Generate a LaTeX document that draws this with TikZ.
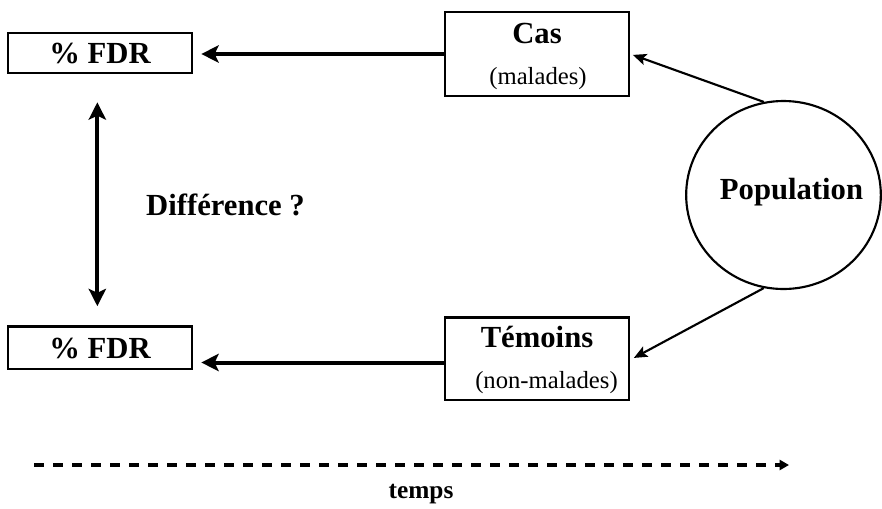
\documentclass[tikz,border=0pt]{standalone}
\usepackage{fontspec}
\setmainfont{Liberation Serif}
\usetikzlibrary{arrows.meta,shapes.geometric}
\tikzset{
  box/.style={draw, line width=2pt, inner sep=0pt},
  bigtxt/.style={font=\fontsize{23}{27}\selectfont\bfseries, inner sep=0pt, anchor=base},
  smalltxt/.style={font=\fontsize{18.5}{22}\selectfont, inner sep=0pt, anchor=base},
  harrow/.style={line width=3pt, -{Stealth[length=13pt,width=13pt,inset=3pt]}},
  varrow/.style={line width=3pt, {Stealth[length=13pt,width=13pt,inset=3pt]}-{Stealth[length=13pt,width=13pt,inset=3pt]}},
  darrow/.style={line width=1.6pt, -{Stealth[length=10pt,width=8.5pt,inset=2pt]}},
  timearrow/.style={line width=2.6pt, dash pattern=on 7.5pt off 6.75pt, -{Triangle[length=7pt,width=7.5pt]}}
}
\begin{document}
\begin{tikzpicture}[x=0.75pt,y=-0.75pt]
\useasboundingbox (0,0) rectangle (882,508);
% boxes
\node[box, minimum width=138pt, minimum height=30pt] (fdr1) at (100,53) {};
\node[box, minimum width=138pt, minimum height=32pt] (fdr2) at (100,347.5) {};
\node[box, minimum width=138pt, minimum height=63pt] (cas) at (537,54) {};
\node[box, minimum width=138pt, minimum height=62pt] (tem) at (537,358.5) {};
\node[draw, ellipse, line width=1.6pt, minimum width=146pt, minimum height=141pt, inner sep=0pt] (pop) at (783.5,195) {};
% texts
\node[bigtxt] (tfdr1) at (100,63) {\% FDR};
\node[bigtxt] (tfdr2) at (100,358) {\% FDR};
\node[bigtxt] (tcas) at (537,43) {Cas};
\node[smalltxt] (tmal) at (538,84) {(malades)};
\node[bigtxt] (ttem) at (537,347) {Témoins};
\node[smalltxt] (tnon) at (546.5,388) {(non-malades)};
\node[bigtxt] (tpop) at (791.5,199) {Population};
\node[bigtxt] (tdiff) at (225.5,215) {Différence ?};
\node[inner sep=0pt, anchor=base, font=\fontsize{19}{22}\selectfont\bfseries] (ttemps) at (421,498) {temps};
% connectors
\draw[harrow, shorten >=6pt] (cas.west) -- (cas.west -| fdr1.east);
\draw[harrow, shorten >=6pt] ([yshift=-3pt]tem.west) -- ([yshift=-3pt]tem.west -| fdr2.east);
\draw[varrow, shorten <=21pt, shorten >=14pt] ([xshift=-2pt]fdr1.south) -- ([xshift=-2pt]fdr2.north);
\draw[darrow, shorten >=2pt] (pop.102) -- (cas.east);
\draw[darrow, shorten >=3pt] (pop.258) -- ([yshift=-1pt]tem.east);
\coordinate (t0) at (34,465);
\coordinate (t1) at (789,465);
\draw[timearrow] (t0) -- (t1);
\end{tikzpicture}
\end{document}
